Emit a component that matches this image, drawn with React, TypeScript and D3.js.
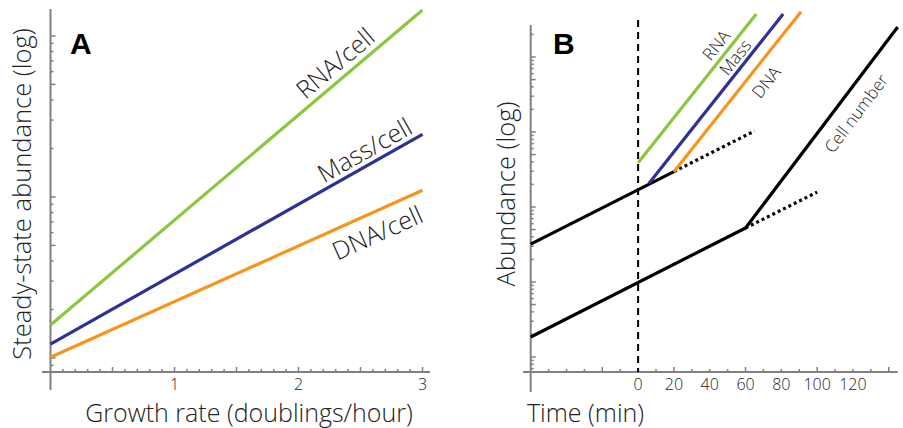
import React from "react";
import * as d3 from "d3";

// ---------- Panel A data ----------
const growthRate = [0, 3];
const rnaPerCell = [0.16, 14.5];
const massPerCell = [0.122, 2.45];
const dnaPerCell = [0.101, 1.1];
const growthTickLabels = [1, 2, 3];

// ---------- Panel B data ----------
const rnaTime = [0, 66];
const rnaAbund = [390, 37400];
const massTime = [6, 81];
const massAbund = [205, 37400];
const dnaTime = [20, 91];
const dnaAbund = [296, 40200];
const upperTime = [-60, 20];
const upperAbund = [32, 296];
const upperDotTime = [20, 65];
const upperDotAbund = [296, 1030];
const cellTime = [-60, 60, 145];
const cellAbund = [1.85, 52.5, 25100];
const cellDotTime = [60, 100];
const cellDotAbund = [52.5, 158];
const timeTickLabels = [0, 20, 40, 60, 80, 100, 120];

const GREEN = "#8cc63e";
const BLUE = "#2e3192";
const ORANGE = "#f7941d";
const AXIS = "#808080";
const TEXT = "#222222";
const FONT = "'Open Sans', 'Noto Sans', sans-serif";

function logTicks(domain: number[]) {
  const out: { v: number; major: boolean }[] = [];
  const lo = Math.floor(Math.log10(domain[0]));
  const hi = Math.ceil(Math.log10(domain[1]));
  for (let d = lo; d <= hi; d++) {
    for (let k = 1; k <= 9; k++) {
      const v = k * Math.pow(10, d);
      if (v >= domain[0] && v <= domain[1]) out.push({ v, major: k === 1 || k === 5 });
    }
  }
  return out;
}

export default function App() {
  // Panel A scales
  const xA = d3.scaleLinear().domain([0, 3]).range([50.5, 422.5]);
  const yADomain = [0.0818, 14.7];
  const yA = d3.scaleLog().domain(yADomain).range([372, 9]);
  const lineA = (ys: number[]) =>
    d3.line<number>().x((_, i) => xA(growthRate[i])).y((v) => yA(v))(ys) || "";

  // Panel B scales
  const xB = d3.scaleLinear().domain([-60, 145]).range([530.7, 897.7]);
  const yBDomain = [0.631, 26700];
  const yB = d3.scaleLog().domain(yBDomain).range([372, 25]);
  const lineB = (ts: number[], vs: number[]) =>
    d3.line<number>().x((t) => xB(t)).y((_, i) => yB(vs[i]))(ts) || "";

  const angle = (x0: number, y0: number, x1: number, y1: number) =>
    (Math.atan2(y1 - y0, x1 - x0) * 180) / Math.PI;

  const angRna = angle(xA(0), yA(rnaPerCell[0]), xA(3), yA(rnaPerCell[1]));
  const angMass = angle(xA(0), yA(massPerCell[0]), xA(3), yA(massPerCell[1]));
  const angDna = angle(xA(0), yA(dnaPerCell[0]), xA(3), yA(dnaPerCell[1]));
  const angB = angle(xB(rnaTime[0]), yB(rnaAbund[0]), xB(rnaTime[1]), yB(rnaAbund[1]));
  const angCell = angle(xB(cellTime[1]), yB(cellAbund[1]), xB(cellTime[2]), yB(cellAbund[2]));

  const xATicks = d3.range(1, 31).map((i) => i / 10);
  const xBTicks = d3.range(-50, 141, 10);

  return (
    <svg
      width={903}
      height={428}
      style={{ position: "absolute", left: 0, top: 0, background: "#fff" }}
      fontFamily={FONT}
    >
      {/* ================= Panel A ================= */}
      <g>
        <line x1={xA(0)} x2={xA(0)} y1={9} y2={390} stroke={AXIS} strokeWidth={2} />
        <line x1={42} x2={430} y1={yA(yADomain[0])} y2={yA(yADomain[0])} stroke={AXIS} strokeWidth={2} />
        {xATicks.map((t) => {
          const major = Math.abs(t * 2 - Math.round(t * 2)) < 1e-6;
          return (
            <line key={"xa" + t} x1={xA(t)} x2={xA(t)} y1={372} y2={372 - (major ? 5 : 3)} stroke={AXIS} strokeWidth={1.5} />
          );
        })}
        {logTicks(yADomain).map((tk) => (
          <line key={"ya" + tk.v} x1={xA(0)} x2={xA(0) + (tk.major ? 5 : 3)} y1={yA(tk.v)} y2={yA(tk.v)} stroke={AXIS} strokeWidth={1.5} />
        ))}
        {growthTickLabels.map((t) => (
          <text key={"xal" + t} x={xA(t)} y={390} textAnchor="middle" fontSize={16} fontWeight={300} fill={TEXT}>
            {t}
          </text>
        ))}
        <text x={249} y={422} textAnchor="middle" fontSize={25} fontWeight={300} fill={TEXT}>
          Growth rate (doublings/hour)
        </text>
        <text transform="translate(31,194) rotate(-90)" textAnchor="middle" fontSize={25.5} fontWeight={300} fill={TEXT}>
          Steady-state abundance (log)
        </text>
        <text x={70} y={54} fontFamily="'Liberation Sans', Arial, sans-serif" fontWeight="bold" fontSize={30} fill="#000">
          A
        </text>

        <path d={lineA(rnaPerCell)} stroke={GREEN} strokeWidth={3.2} fill="none" />
        <path d={lineA(massPerCell)} stroke={BLUE} strokeWidth={3.2} fill="none" />
        <path d={lineA(dnaPerCell)} stroke={ORANGE} strokeWidth={3.2} fill="none" />

        <text transform={`translate(341,70) rotate(${angRna})`} textAnchor="middle" fontSize={25} fontWeight={300} fill={TEXT}>
          RNA/cell
        </text>
        <text transform={`translate(369,158) rotate(${angMass})`} textAnchor="middle" fontSize={25} fontWeight={300} fill={TEXT}>
          Mass/cell
        </text>
        <text transform={`translate(381,241) rotate(${angDna})`} textAnchor="middle" fontSize={25} fontWeight={300} fill={TEXT}>
          DNA/cell
        </text>
      </g>

      {/* ================= Panel B ================= */}
      <g>
        <line x1={xB(-60)} x2={xB(-60)} y1={25} y2={392} stroke={AXIS} strokeWidth={2} />
        <line x1={523} x2={897.7} y1={372} y2={372} stroke={AXIS} strokeWidth={2} />
        {xBTicks.map((t) => {
          const major = (t + 20) % 40 === 0;
          return (
            <line key={"xb" + t} x1={xB(t)} x2={xB(t)} y1={372} y2={372 - (major ? 5 : 3)} stroke={AXIS} strokeWidth={1.5} />
          );
        })}
        {logTicks(yBDomain).map((tk) => (
          <line key={"yb" + tk.v} x1={xB(-60)} x2={xB(-60) + (tk.major ? 5 : 3)} y1={yB(tk.v)} y2={yB(tk.v)} stroke={AXIS} strokeWidth={1.5} />
        ))}
        {timeTickLabels.map((t) => (
          <text key={"xbl" + t} x={xB(t)} y={390} textAnchor="middle" fontSize={16} fontWeight={300} fill={TEXT}>
            {t}
          </text>
        ))}
        <text x={527} y={422} fontSize={25} fontWeight={300} fill={TEXT}>
          Time (min)
        </text>
        <text transform="translate(515,194) rotate(-90)" textAnchor="middle" fontSize={25.5} fontWeight={300} fill={TEXT}>
          Abundance (log)
        </text>
        <text x={553} y={54} fontFamily="'Liberation Sans', Arial, sans-serif" fontWeight="bold" fontSize={30} fill="#000">
          B
        </text>

        <line x1={xB(0)} x2={xB(0)} y1={20} y2={372} stroke="#000" strokeWidth={2} strokeDasharray="7,5" />

        <path d={lineB(upperTime, upperAbund)} stroke="#000" strokeWidth={3.2} fill="none" />
        <path d={lineB(upperDotTime, upperDotAbund)} stroke="#000" strokeWidth={3.2} fill="none" strokeDasharray="3,3" />
        <path d={lineB(cellTime, cellAbund)} stroke="#000" strokeWidth={3.2} fill="none" strokeLinejoin="round" />
        <path d={lineB(cellDotTime, cellDotAbund)} stroke="#000" strokeWidth={3.2} fill="none" strokeDasharray="3,3" />
        <path d={lineB(rnaTime, rnaAbund)} stroke={GREEN} strokeWidth={3.2} fill="none" />
        <path d={lineB(massTime, massAbund)} stroke={BLUE} strokeWidth={3.2} fill="none" />
        <path d={lineB(dnaTime, dnaAbund)} stroke={ORANGE} strokeWidth={3.2} fill="none" />

        <text transform={`translate(721,49) rotate(${angB})`} textAnchor="middle" fontSize={17} fontWeight={300} fill={TEXT}>
          RNA
        </text>
        <text transform={`translate(740,61) rotate(${angB})`} textAnchor="middle" fontSize={17} fontWeight={300} fill={TEXT}>
          Mass
        </text>
        <text transform={`translate(771,86) rotate(${angB})`} textAnchor="middle" fontSize={17} fontWeight={300} fill={TEXT}>
          DNA
        </text>
        <text transform={`translate(861,117) rotate(${angCell})`} textAnchor="middle" fontSize={17} fontWeight={300} fill={TEXT}>
          Cell number
        </text>
      </g>
    </svg>
  );
}
